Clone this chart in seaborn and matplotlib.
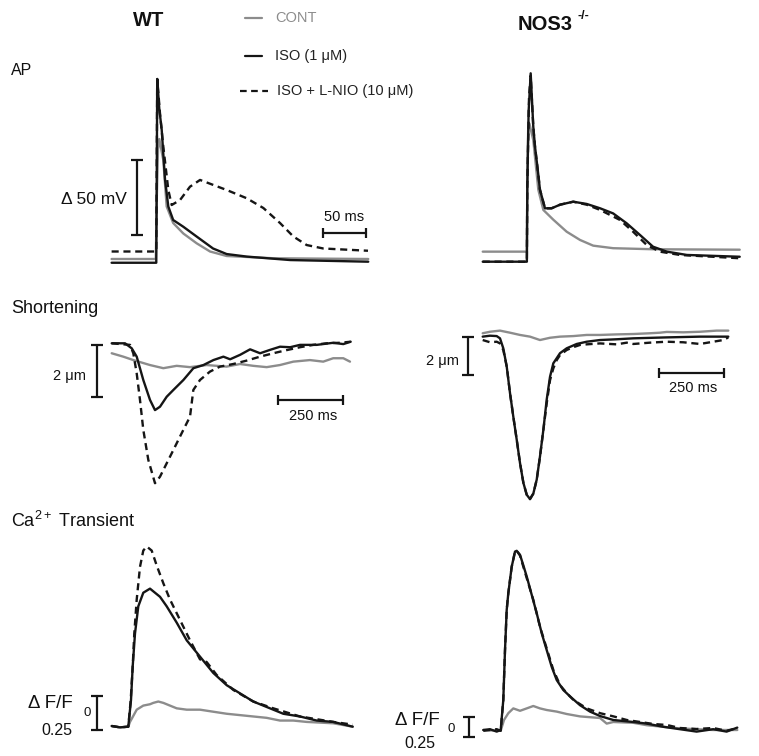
import matplotlib
matplotlib.use("Agg")
import matplotlib.pyplot as plt
import seaborn as sns
import pandas as pd
from matplotlib.lines import Line2D

# ---------------- data ----------------
conditions = ["CONT", "ISO (1 μM)", "ISO + L-NIO (10 μM)"]

# Action potentials (ms, mV) - WT
wt_ap_cont_t = [-52, -1, 0, 1.5, 3, 7.6, 11.5, 19, 30.7, 46, 61.5, 80.7, 134.5, 244]
wt_ap_cont_v = [-78, -78, -40, -5, 2, -12, -43, -54, -61, -67.5, -73, -76, -77.5, -78]
wt_ap_iso_t = [-52, -0.5, 0, 0.6, 3, 5.8, 9.6, 13.4, 19, 30.7, 46, 65, 80.7, 104, 154, 244]
wt_ap_iso_v = [-80.5, -80.5, -30, 42, 22, 8, -25, -43, -52, -56.5, -63, -71, -74.7, -76.4, -78.7, -79.8]
wt_ap_lnio_t = [-52, -0.5, 0, 0.6, 3.8, 7.6, 13.4, 17.3, 26.9, 38.4, 50, 80.7, 103.8, 123, 142.2, 157.6, 173, 192.2, 243.7]
wt_ap_lnio_v = [-73, -73, -20, 42, 19, -3, -32, -42, -38.7, -29.8, -25.3, -32, -37.5, -44, -54, -63, -68.7, -71, -72.5]

# Action potentials - NOS3-/-
ko_ap_cont_t = [-51.4, -0.5, 0, 1, 2.5, 6.9, 12.7, 18.5, 30, 45.4, 60.8, 76, 99, 145, 245]
ko_ap_cont_v = [-73.3, -73.3, -30, 8, 12, 1, -32, -45.5, -52, -60, -65.5, -69.3, -71, -71.7, -72]
ko_ap_iso_t = [-51.4, -0.5, 0, 1.5, 3.9, 6.9, 8.9, 12.7, 14.6, 20.4, 28, 37.7, 53, 68.5, 84, 99, 114.6, 130, 145, 161, 184, 245]
ko_ap_iso_v = [-80, -80, -30, 20, 45.6, 10, -3.3, -22, -32, -44.4, -44.4, -42, -40, -41.5, -44.4, -47.8, -54.4, -62.2, -70, -73.3, -75.5, -76.7]
ko_ap_lnio_t = [-51.4, -0.5, 0, 2, 3.9, 6.9, 8.9, 12.7, 14.6, 20.4, 28, 37.7, 53, 68.5, 84, 107, 122, 138, 153, 176, 245]
ko_ap_lnio_v = [-80, -80, -30, 30, 44, 10, -3.3, -22, -32, -44.4, -44.4, -42, -40, -42, -45.5, -52.2, -60, -69, -73.3, -75.5, -77.7]

# Shortening (ms, um) - WT
wt_sh_cont_t = [0, 44.6, 83.1, 147.3, 198.5, 249.8, 301, 365, 442, 493.5, 544.6, 596, 647, 698.5, 762.3, 813.5, 852, 890.8, 916.5]
wt_sh_cont_v = [-0.38, -0.51, -0.64, -0.83, -0.95, -0.86, -0.91, -0.83, -0.89, -0.79, -0.86, -0.91, -0.83, -0.70, -0.64, -0.70, -0.57, -0.57, -0.70]
wt_sh_iso_t = [0, 51.2, 76.9, 96.2, 121.5, 147.3, 166.5, 185.8, 211.5, 237.3, 275.8, 314.2, 352.7, 391.2, 429.6, 455.4, 493.8, 532.3, 570.8, 609.2, 647.3, 686, 724.2, 788.5, 852.3, 890.8, 919.2]
wt_sh_iso_v = [0, 0, -0.19, -0.51, -1.40, -2.16, -2.55, -2.42, -2.04, -1.78, -1.40, -0.95, -0.83, -0.64, -0.51, -0.61, -0.44, -0.23, -0.38, -0.25, -0.13, -0.15, -0.06, -0.06, 0.02, -0.03, 0.06]
wt_sh_lnio_t = [0, 70.4, 83.1, 96.2, 108.8, 121.5, 140.8, 166.5, 185.8, 211.5, 237.3, 262.7, 281.9, 301.2, 314, 339.6, 378, 416.5, 467.7, 519.2, 570.4, 621.5, 673, 724.2, 775.4, 826.9, 878, 919.2]
wt_sh_lnio_v = [0, -0.06, -0.38, -1.15, -2.16, -3.30, -4.45, -5.34, -5.09, -4.58, -4.07, -3.56, -3.18, -2.80, -1.78, -1.40, -1.08, -0.89, -0.79, -0.66, -0.51, -0.38, -0.26, -0.15, -0.06, 0, 0.02, 0.06]

# Shortening - NOS3-/-
ko_sh_cont_t = [0, 28.2, 66.8, 105.4, 144, 182.6, 221.2, 259.8, 298.5, 349.9, 401.5, 452.9, 517.4, 581.5, 645.9, 684.6, 710.4, 774.6, 839.1, 903.5, 948.3]
ko_sh_cont_v = [0.13, 0.21, 0.27, 0.16, 0.04, -0.05, -0.23, -0.11, -0.05, -0.02, 0.04, 0.04, 0.07, 0.09, 0.13, 0.16, 0.20, 0.18, 0.21, 0.27, 0.27]
ko_sh_iso_t = [0, 28.2, 54, 66.8, 79.5, 92.7, 105.4, 118.1, 131.3, 144, 157.1, 170, 182.6, 195.4, 208.5, 221.2, 234.3, 247.1, 260, 272.6, 298.5, 324.3, 363, 401.5, 452.9, 517.4, 581.5, 710.4, 839.1, 948.3]
ko_sh_iso_v = [-0.05, 0, -0.02, -0.14, -0.67, -1.64, -3.05, -4.30, -5.53, -6.77, -7.83, -8.46, -8.69, -8.40, -7.66, -6.42, -5.00, -3.40, -2.18, -1.47, -0.93, -0.67, -0.44, -0.32, -0.23, -0.19, -0.14, -0.09, -0.05, -0.05]
ko_sh_lnio_t = [0, 28.2, 54, 66.8, 79.5, 93.1, 105.4, 118.1, 131.3, 144, 157.1, 170, 182.6, 195.4, 208.5, 221.2, 234.3, 247.1, 260, 272.6, 285.7, 298.5, 324.3, 350, 376, 401.5, 452.9, 517.4, 556, 581.5, 645.9, 710.4, 774.6, 839.1, 890.3, 929, 948.3]
ko_sh_lnio_v = [-0.23, -0.35, -0.32, -0.41, -0.76, -1.66, -3.05, -4.30, -5.53, -6.77, -7.83, -8.46, -8.69, -8.40, -7.66, -6.44, -5.00, -3.60, -2.36, -1.74, -1.30, -1.03, -0.76, -0.61, -0.49, -0.46, -0.41, -0.46, -0.37, -0.44, -0.37, -0.32, -0.35, -0.44, -0.32, -0.23, -0.09]

# Ca2+ transients (ms, dF/F0) - WT
wt_ca_cont_t = [0, 31.9, 63.8, 70.4, 96.2, 121.5, 147.3, 160, 179.2, 198.5, 224.2, 250, 288.5, 339.6, 390.8, 442.3, 493.5, 544.6, 596, 647.3, 698.5, 750, 801.2, 852.3, 926.9]
wt_ca_cont_v = [0, -0.01, -0.005, 0.03, 0.12, 0.15, 0.16, 0.17, 0.18, 0.17, 0.15, 0.13, 0.12, 0.12, 0.105, 0.09, 0.08, 0.07, 0.06, 0.04, 0.04, 0.03, 0.025, 0.02, -0.005]
wt_ca_iso_t = [0, 31.9, 63.8, 74.2, 80.8, 89.6, 102.3, 121.5, 147.3, 185.8, 211.5, 250, 288.5, 339.6, 390.8, 442.3, 493.5, 544.6, 596, 660, 724.2, 788.5, 852.3, 926.9]
wt_ca_iso_v = [0, -0.01, -0.005, 0.19, 0.44, 0.68, 0.88, 0.98, 1.01, 0.95, 0.88, 0.76, 0.63, 0.51, 0.39, 0.30, 0.24, 0.18, 0.14, 0.09, 0.07, 0.04, 0.03, -0.005]
wt_ca_lnio_t = [0, 31.9, 63.8, 73.1, 80.8, 86.9, 96.2, 108.8, 121.5, 134.6, 153.8, 173.1, 198.5, 224.2, 262.7, 301.2, 339.6, 365.4, 403.8, 467.7, 544.6, 621.5, 724.2, 852.3, 926.9]
wt_ca_lnio_v = [0, -0.01, -0.005, 0.19, 0.44, 0.68, 0.93, 1.17, 1.29, 1.32, 1.29, 1.18, 1.05, 0.93, 0.78, 0.63, 0.49, 0.47, 0.375, 0.265, 0.18, 0.13, 0.07, 0.03, 0.01]

# Ca2+ transients - NOS3-/-
ko_ca_cont_t = [0, 66.9, 79.6, 96.2, 115.4, 141.2, 166.9, 192.3, 218.1, 243.8, 282.3, 320.8, 372, 410.4, 448.8, 474.6, 500, 576.9, 628.5, 692.3, 756.2, 820.4, 884.6, 976.9]
ko_ca_cont_v = [0, -0.01, 0.125, 0.21, 0.27, 0.24, 0.27, 0.30, 0.27, 0.25, 0.23, 0.20, 0.17, 0.16, 0.15, 0.08, 0.10, 0.09, 0.06, 0.04, 0.02, 0.01, 0, 0]
ko_ca_iso_t = [0, 25.8, 51.5, 66.9, 76.9, 83.5, 90, 96.2, 109.2, 121.9, 128.5, 141.2, 153.8, 166.9, 186.2, 205.4, 224.6, 243.8, 263.1, 282.3, 307.7, 333.5, 372, 410.4, 448.8, 500, 576.9, 628.5, 692.3, 756.2, 820.4, 884.2, 935.8, 976.9]
ko_ca_iso_v = [0, 0.01, -0.02, 0, 0.375, 1.0, 1.5, 1.71, 2.04, 2.23, 2.24, 2.19, 2.06, 1.92, 1.69, 1.46, 1.21, 1.0, 0.79, 0.625, 0.5, 0.42, 0.31, 0.23, 0.175, 0.125, 0.10, 0.08, 0.04, 0.01, -0.02, 0.01, -0.02, 0.03]
ko_ca_lnio_t = [0, 25.8, 51.5, 66.9, 76.9, 83.5, 90, 96.2, 109.2, 121.9, 128.5, 141.2, 166.9, 192.5, 218.1, 243.8, 269.4, 295.4, 321.2, 346.9, 398.1, 449.6, 500.8, 552, 603.5, 654.6, 706, 756.2, 820.4, 884.2, 935.8, 976.9]
ko_ca_lnio_v = [-0.01, 0, 0.01, -0.01, 0.375, 1.0, 1.5, 1.71, 2.04, 2.23, 2.24, 2.18, 1.90, 1.625, 1.29, 1.02, 0.75, 0.56, 0.46, 0.375, 0.27, 0.21, 0.17, 0.125, 0.1, 0.075, 0.0625, 0.025, 0.0125, 0.025, -0.01, 0.025]

# ---------------- figure ----------------
sns.set_theme(style="white")
plt.rcParams["font.family"] = ["Liberation Sans", "DejaVu Sans"]
plt.rcParams["mathtext.fontset"] = "custom"
plt.rcParams["mathtext.rm"] = "Liberation Sans"

W, H = 759, 756
fig = plt.figure(figsize=(W / 100, H / 100), dpi=100)
fig.patch.set_facecolor("white")

GRAY = "#8c8c8c"
BLACK = "#151515"
TXT = "#111111"
palette = {conditions[0]: GRAY, conditions[1]: BLACK, conditions[2]: BLACK}
dashes = {conditions[0]: "", conditions[1]: "", conditions[2]: (3, 2)}


def fx(x):
    return x / W


def fy(y):
    return 1 - y / H


def panel(box, xref, yref, sx, sy, series):
    L, T, R, B = box
    ax = fig.add_axes([L / W, 1 - B / H, (R - L) / W, (B - T) / H])
    frames = [pd.DataFrame({"t": t, "v": v, "cond": c}) for c, (t, v) in zip(conditions, series)]
    df = pd.concat(frames, ignore_index=True)
    sns.lineplot(data=df, x="t", y="v", hue="cond", style="cond",
                 hue_order=conditions, style_order=conditions,
                 palette=palette, dashes=dashes, estimator=None, sort=False,
                 linewidth=1.7, legend=False, ax=ax)
    for ln in ax.lines:
        ln.set_clip_on(False)
    ax.set_xlim((L - xref) / sx, (R - xref) / sx)
    ax.set_ylim((yref - B) / sy, (yref - T) / sy)
    ax.axis("off")
    return ax


def vbar(ax, x, y0, y1):
    ax.plot([x, x], [y0, y1], color=BLACK, lw=1.6, marker="_", ms=9, mew=1.6, clip_on=False)


def hbar(ax, y, x0, x1):
    ax.plot([x0, x1], [y, y], color=BLACK, lw=1.6, marker="|", ms=7, mew=1.6, clip_on=False)


# AP panels
ax = panel((40, 60, 380, 285), 156.7, 142, 0.867, 1.5,
           [(wt_ap_cont_t, wt_ap_cont_v), (wt_ap_iso_t, wt_ap_iso_v), (wt_ap_lnio_t, wt_ap_lnio_v)])
vbar(ax, -23.1, -62, -12)
hbar(ax, -60.7, 191.5, 241.5)

ax = panel((420, 60, 759, 285), 527.3, 141.7, 0.867, 1.5,
           [(ko_ap_cont_t, ko_ap_cont_v), (ko_ap_iso_t, ko_ap_iso_v), (ko_ap_lnio_t, ko_ap_lnio_v)])

# Shortening panels
ax = panel((0, 320, 380, 500), 111.7, 343.3, 0.26, 26.2,
           [(wt_sh_cont_t, wt_sh_cont_v), (wt_sh_iso_t, wt_sh_iso_v), (wt_sh_lnio_t, wt_sh_lnio_v)])
vbar(ax, -57.7, -2.065, -0.065)
hbar(ax, -2.16, 640.8, 890.8)

ax = panel((400, 320, 759, 505), 482.7, 335.7, 0.259, 18.8,
           [(ko_sh_cont_t, ko_sh_cont_v), (ko_sh_iso_t, ko_sh_iso_v), (ko_sh_lnio_t, ko_sh_lnio_v)])
vbar(ax, -57.9, -2.09, -0.09)
hbar(ax, -2.0, 681.9, 931.9)

# Ca panels
ax = panel((0, 530, 380, 745), 111.7, 726, 0.26, 136,
           [(wt_ca_cont_t, wt_ca_cont_v), (wt_ca_iso_t, wt_ca_iso_v), (wt_ca_lnio_t, wt_ca_lnio_v)])
vbar(ax, -57.7, -0.03, 0.22)

ax = panel((380, 530, 759, 750), 483.3, 730, 0.26, 80,
           [(ko_ca_cont_t, ko_ca_cont_v), (ko_ca_iso_t, ko_ca_iso_v), (ko_ca_lnio_t, ko_ca_lnio_v)])
vbar(ax, -53.8, -0.09, 0.16)

# ---------------- legend ----------------
leg_rows = [(18, 245, 262, GRAY, "-", 275, conditions[0], GRAY),
            (56, 245, 262, BLACK, "-", 275, conditions[1], "#222222"),
            (91, 240, 268, BLACK, (0, (3, 2)), 277, conditions[2], "#222222")]
for y, x0, x1, col, ls, xt, label, tcol in leg_rows:
    fig.add_artist(Line2D([fx(x0), fx(x1)], [fy(y), fy(y)], color=col, lw=1.6,
                          linestyle=ls, transform=fig.transFigure))
    fig.text(fx(xt), fy(y), label, ha="left", va="center", fontsize=10.5, color=tcol)

# ---------------- texts ----------------
fig.text(fx(149), fy(20), "WT", ha="center", va="center", fontsize=14.5, fontweight="bold", color=TXT)
fig.text(fx(518), fy(24), "NOS3", ha="left", va="center", fontsize=14.5, fontweight="bold", color=TXT)
fig.text(fx(577), fy(16), "-/-", ha="left", va="center", fontsize=9, fontweight="bold", color=TXT)

fig.text(fx(11), fy(75), "AP", ha="left", va="baseline", fontsize=11.5, color=TXT)
fig.text(fx(11), fy(313), "Shortening", ha="left", va="baseline", fontsize=13, color=TXT)
fig.text(fx(11), fy(527), "Ca$^{2+}$ Transient", ha="left", va="baseline", fontsize=13, color=TXT)

fig.text(fx(61), fy(204), "Δ 50 mV", ha="left", va="baseline", fontsize=12.5, color=TXT)
fig.text(fx(344), fy(221.5), "50 ms", ha="center", va="baseline", fontsize=10.5, color=TXT)

fig.text(fx(53), fy(380.5), "2 μm", ha="left", va="baseline", fontsize=10.5, color=TXT)
fig.text(fx(313), fy(420), "250 ms", ha="center", va="baseline", fontsize=10.5, color=TXT)
fig.text(fx(426), fy(365), "2 μm", ha="left", va="baseline", fontsize=10.5, color=TXT)
fig.text(fx(693), fy(391.5), "250 ms", ha="center", va="baseline", fontsize=10.5, color=TXT)

fig.text(fx(28), fy(708.5), "Δ F/F", ha="left", va="baseline", fontsize=13.5, color=TXT)
fig.text(fx(83), fy(716.5), "0", ha="left", va="baseline", fontsize=9.5, color=TXT)
fig.text(fx(56.7), fy(735), "0.25", ha="center", va="baseline", fontsize=11.5, color=TXT)

fig.text(fx(395), fy(725), "Δ F/F", ha="left", va="baseline", fontsize=13.5, color=TXT)
fig.text(fx(448), fy(731.5), "0", ha="left", va="baseline", fontsize=9.5, color=TXT)
fig.text(fx(419.7), fy(748.3), "0.25", ha="center", va="baseline", fontsize=11.5, color=TXT)

fig.savefig("out.png", dpi=100, facecolor="white")
